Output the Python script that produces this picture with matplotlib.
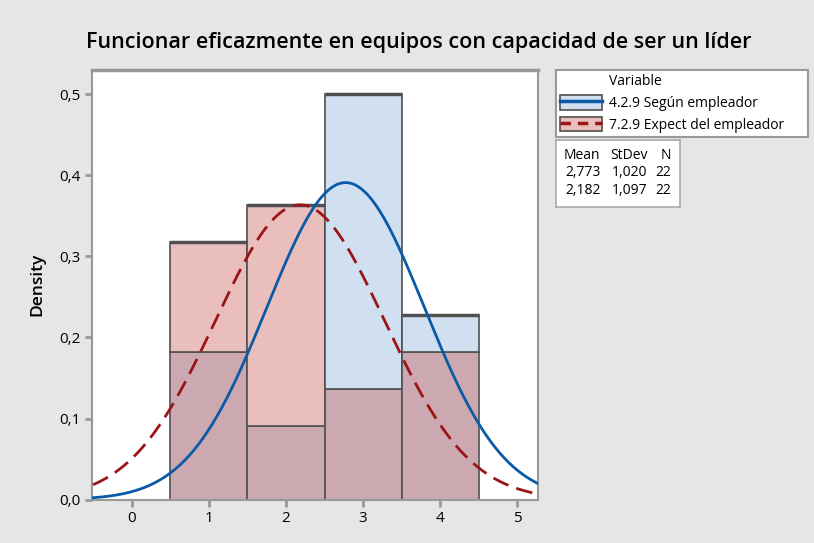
import numpy as np
import matplotlib
matplotlib.use("Agg")
from matplotlib import pyplot as plt
from matplotlib.patches import Patch
from matplotlib.lines import Line2D
from matplotlib.legend_handler import HandlerTuple
from matplotlib.ticker import FuncFormatter

plt.rcParams['font.family'] = ['Open Sans', 'DejaVu Sans']

# datos
titulo = "Funcionar eficazmente en equipos con capacidad de ser un líder"
bins = [1, 2, 3, 4]
dens_segun = [4/22, 2/22, 11/22, 5/22]
dens_expect = [7/22, 8/22, 3/22, 4/22]
nombres = ["4.2.9 Según empleador", "7.2.9 Expect del empleador"]
medias = [2.773, 2.182]
desv = [1.020, 1.097]
n = [22, 22]

azul_fill = "#d0e0f0"
rojo_fill = "#ebbebe"
mezcla = "#cca9b1"
azul_lin = "#0a5aa8"
rojo_lin = "#9a1616"
borde = "#505050"

fig = plt.figure(figsize=(8.14, 5.43), dpi=100)
fig.patch.set_facecolor("#e6e6e6")
ax = fig.add_axes([0.113, 0.080, 0.548, 0.791])

for i in range(len(bins)):
	a = dens_segun[i]
	b = dens_expect[i]
	lo = min(a, b)
	hi = max(a, b)
	col = azul_fill if a > b else rojo_fill
	ax.bar(bins[i], lo, width=1, color=mezcla, edgecolor=borde, linewidth=1.2, zorder=2)
	ax.bar(bins[i], hi - lo, bottom=lo, width=1, color=col, edgecolor=borde, linewidth=1.2, zorder=2)
	ax.hlines(hi, bins[i] - 0.5, bins[i] + 0.5, color=borde, linewidth=2.5, zorder=3)

x = np.linspace(-0.5, 5.3, 400)
def normal(x, m, s):
	return np.exp(-0.5 * ((x - m) / s) ** 2) / (s * np.sqrt(2 * np.pi))

ax.plot(x, normal(x, medias[0], desv[0]), color=azul_lin, linewidth=2.0, zorder=4)
ax.plot(x, normal(x, medias[1], desv[1]), color=rojo_lin, linewidth=2.0,
	dashes=(6, 3), zorder=4)

ax.set_xlim(-0.514, 5.267)
ax.set_ylim(0, 0.530)
ax.set_xticks([0, 1, 2, 3, 4, 5])
ax.set_yticks([0, 0.1, 0.2, 0.3, 0.4, 0.5])
ax.yaxis.set_major_formatter(FuncFormatter(lambda v, p: ("%.1f" % v).replace(".", ",")))
ax.tick_params(colors="#999999", labelcolor="black", length=5, width=2, labelsize=11)
ax.set_ylabel("Density", fontsize=12.5, fontweight="semibold", labelpad=10)
for s in ax.spines.values():
	s.set_color("#999999")
	s.set_linewidth(1.5)
ax.spines["top"].set_linewidth(2.5)

fig.text(0.515, 0.922, titulo, ha="center", va="center", fontsize=15.5, fontweight="semibold")

# leyenda
vacio = Patch(facecolor="none", edgecolor="none")
h1 = (Patch(facecolor=azul_fill, edgecolor=borde, linewidth=1.2),
	Line2D([], [], color=azul_lin, linewidth=2.5))
h2 = (Patch(facecolor=rojo_fill, edgecolor=borde, linewidth=1.2),
	Line2D([], [], color=rojo_lin, linewidth=2.5, dashes=(3, 2)))
leg = fig.legend([vacio, h1, h2], ["Variable"] + nombres,
	handler_map={tuple: HandlerTuple(ndivide=1, pad=0)},
	loc="upper left", bbox_to_anchor=(0.683, 0.755, 0.310, 0.117), mode="expand",
	fontsize=10, frameon=True, fancybox=False, edgecolor="#999999", framealpha=1,
	handlelength=3.0, handleheight=1.2, labelspacing=0.42, borderpad=0.3,
	handletextpad=0.5, borderaxespad=0)
leg.get_frame().set_linewidth(1.5)
leg.get_frame().set_facecolor("white")

# tabla de estadisticas
tb = fig.add_axes([0.683, 0.619, 0.152, 0.124])
tb.set_xticks([])
tb.set_yticks([])
for s in tb.spines.values():
	s.set_color("#aaaaaa")
	s.set_linewidth(1.2)
tb.set_xlim(0, 1)
tb.set_ylim(0, 1)
tb.text(0.36, 0.77, "Mean", ha="right", va="center", fontsize=10)
tb.text(0.74, 0.77, "StDev", ha="right", va="center", fontsize=10)
tb.text(0.93, 0.77, "N", ha="right", va="center", fontsize=10)
for i in range(2):
	yy = 0.51 - i * 0.26
	tb.text(0.36, yy, ("%.3f" % medias[i]).replace(".", ","), ha="right", va="center", fontsize=10)
	tb.text(0.74, yy, ("%.3f" % desv[i]).replace(".", ","), ha="right", va="center", fontsize=10)
	tb.text(0.93, yy, str(n[i]), ha="right", va="center", fontsize=10)

fig.savefig("out.png", dpi=100, facecolor=fig.get_facecolor())
